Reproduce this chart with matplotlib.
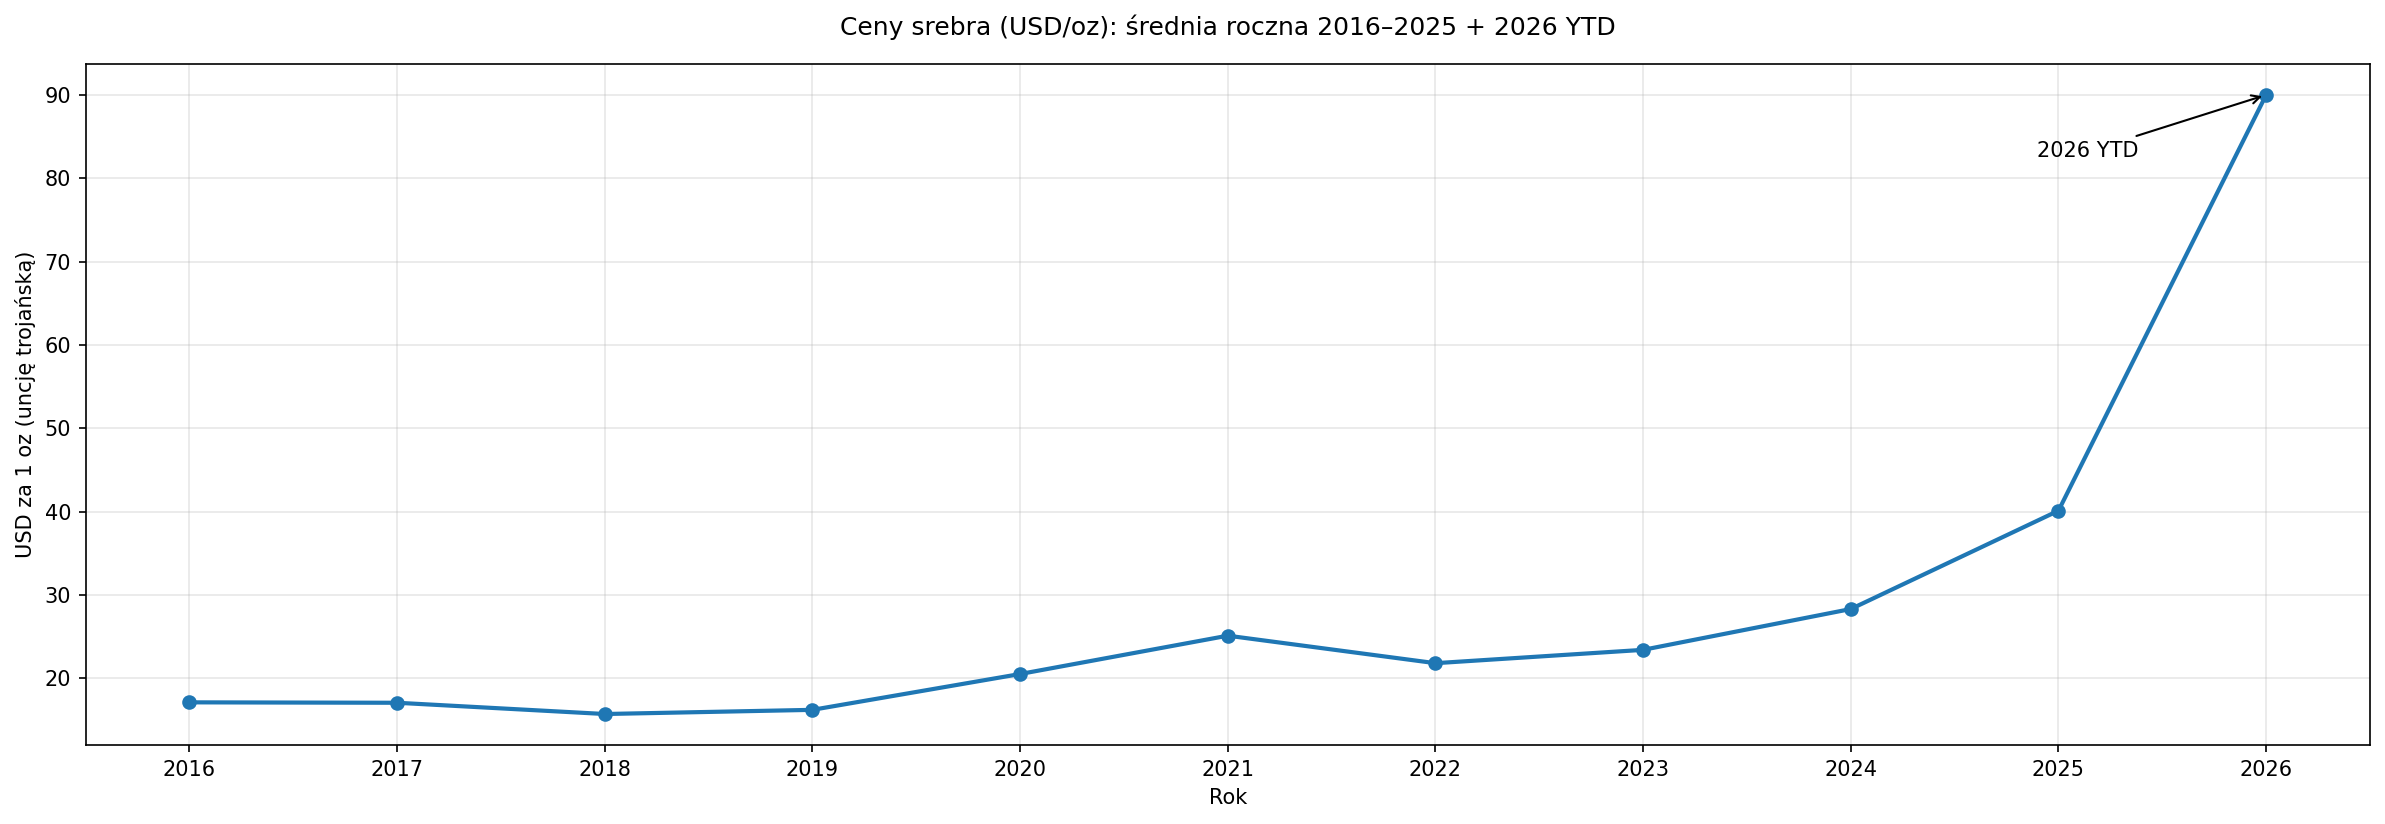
import matplotlib.pyplot as plt

years = [2016, 2017, 2018, 2019, 2020, 2021, 2022, 2023, 2024, 2025, 2026]
prices = [17.1, 17.05, 15.7, 16.2, 20.5, 25.1, 21.8, 23.4, 28.3, 40.1, 90.0]

fig, ax = plt.subplots(figsize=(15.9, 5.494), dpi=150)

ax.plot(years, prices, marker="o", linewidth=2)
ax.annotate(
    "2026 YTD",
    xy=(years[-1], prices[-1]),
    xytext=(-110, -30),
    textcoords="offset points",
    arrowprops=dict(arrowstyle="->", color="black"),
)

ax.set_title("Ceny srebra (USD/oz): średnia roczna 2016–2025 + 2026 YTD", pad=14)
ax.set_xlabel("Rok")
ax.set_ylabel("USD za 1 oz (uncję trojańską)")
ax.set_xticks(years)
ax.grid(True, alpha=0.3)

fig.subplots_adjust(left=0.0359, right=0.9937, top=0.9223, bottom=0.0959)
fig.savefig("out.png", dpi=150)
